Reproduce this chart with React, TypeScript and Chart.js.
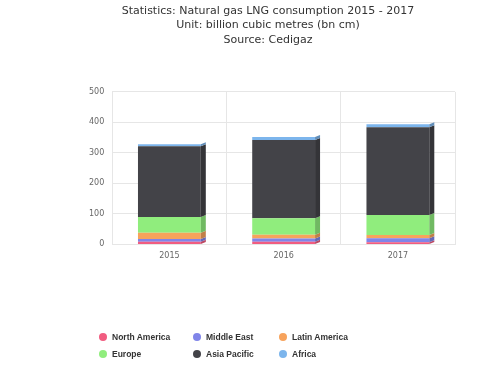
import React, { useEffect, useRef } from "react";
import { Chart, registerables } from "chart.js";

Chart.register(...registerables);

const titleLines = [
  "Statistics: Natural gas LNG consumption 2015 - 2017",
  "Unit: billion cubic metres (bn cm)",
  "Source: Cedigaz",
];
const years = ["2015", "2016", "2017"];
const seriesNames = ["North America", "Middle East", "Latin America", "Europe", "Asia Pacific", "Africa"];
const seriesColors = ["#f15c80", "#8085e9", "#f7a35c", "#90ed7d", "#434348", "#7cb5ec"];
const northAmerica = [9, 9, 7];
const middleEast = [9, 10, 13];
const latinAmerica = [20, 13, 11];
const europe = [52, 54, 65];
const asiaPacific = [232, 256, 288];
const africa = [6, 10, 10];
const seriesValues = [northAmerica, middleEast, latinAmerica, europe, asiaPacific, africa];
const yTicks = [0, 100, 200, 300, 400, 500];

const FONT = "'DejaVu Sans', Verdana, sans-serif";
const LEGEND_FONT = "'Liberation Sans', Arial, sans-serif";

function shade(hex: string, f: number) {
  const n = parseInt(hex.slice(1), 16);
  const r = Math.round(((n >> 16) & 255) * f);
  const g = Math.round(((n >> 8) & 255) * f);
  const b = Math.round((n & 255) * f);
  return `rgb(${r},${g},${b})`;
}

const sideFacePlugin = {
  id: "sideFace",
  afterDatasetsDraw(chart: any) {
    const ctx = chart.ctx;
    const depth = 5;
    ctx.save();
    chart.data.datasets.forEach((ds: any, di: number) => {
      const meta = chart.getDatasetMeta(di);
      meta.data.forEach((bar: any) => {
        const { x, y, base, width } = bar.getProps(["x", "y", "base", "width"], true);
        const right = x + width / 2;
        ctx.fillStyle = shade(ds.backgroundColor, 0.78);
        ctx.beginPath();
        ctx.moveTo(right, y);
        ctx.lineTo(right + depth, y - 2);
        ctx.lineTo(right + depth, base - 2);
        ctx.lineTo(right, base);
        ctx.closePath();
        ctx.fill();
      });
    });
    ctx.restore();
  },
};

export default function App() {
  const ref = useRef<HTMLCanvasElement | null>(null);
  useEffect(() => {
    document.body.style.margin = "0";
    if (!ref.current) return;
    const chart = new Chart(ref.current, {
      type: "bar",
      data: {
        labels: years,
        datasets: seriesNames.map((name, i) => ({
          label: name,
          data: seriesValues[i],
          backgroundColor: seriesColors[i],
          borderWidth: 0,
          barPercentage: 1,
          categoryPercentage: 0.55,
        })),
      },
      options: {
        responsive: false,
        animation: false,
        layout: { padding: { left: 81, right: 45, top: 0, bottom: 107 } },
        plugins: {
          legend: { display: false },
          tooltip: { enabled: false },
          title: {
            display: true,
            text: titleLines,
            color: "#333333",
            font: { family: FONT, size: 11, weight: "normal", lineHeight: 1.3 },
            padding: { top: 4, bottom: 45 },
          },
        },
        scales: {
          x: {
            stacked: true,
            grid: { color: "#e6e6e6", offset: true, drawTicks: false },
            border: { color: "#e6e6e6" },
            ticks: { color: "#666666", font: { family: FONT, size: 8 }, padding: 7 },
          },
          y: {
            stacked: true,
            min: 0,
            max: 500,
            afterBuildTicks: (axis: any) => {
              axis.ticks = yTicks.map((v) => ({ value: v }));
            },
            grid: { color: "#e6e6e6", drawTicks: false },
            border: { display: false },
            ticks: { color: "#666666", font: { family: FONT, size: 8 }, padding: 8 },
          },
        },
      },
      plugins: [sideFacePlugin],
    });
    return () => chart.destroy();
  }, []);

  const legendCols = [99, 193, 279];
  return (
    <div style={{ position: "relative", width: 500, height: 375, background: "#fff" }}>
      <canvas ref={ref} width={500} height={375} style={{ display: "block" }} />
      {seriesNames.map((name, i) => {
        const col = i % 3;
        const row = Math.floor(i / 3);
        return (
          <div
            key={name}
            style={{
              position: "absolute",
              left: legendCols[col],
              top: 332 + row * 17,
              display: "flex",
              alignItems: "center",
              fontFamily: LEGEND_FONT,
              fontSize: 8.5,
              fontWeight: "bold",
              color: "#333333",
              whiteSpace: "nowrap",
              lineHeight: "10px",
            }}
          >
            <span
              style={{
                display: "inline-block",
                width: 8,
                height: 8,
                borderRadius: "50%",
                background: seriesColors[i],
                marginRight: 5,
              }}
            />
            {name}
          </div>
        );
      })}
    </div>
  );
}
